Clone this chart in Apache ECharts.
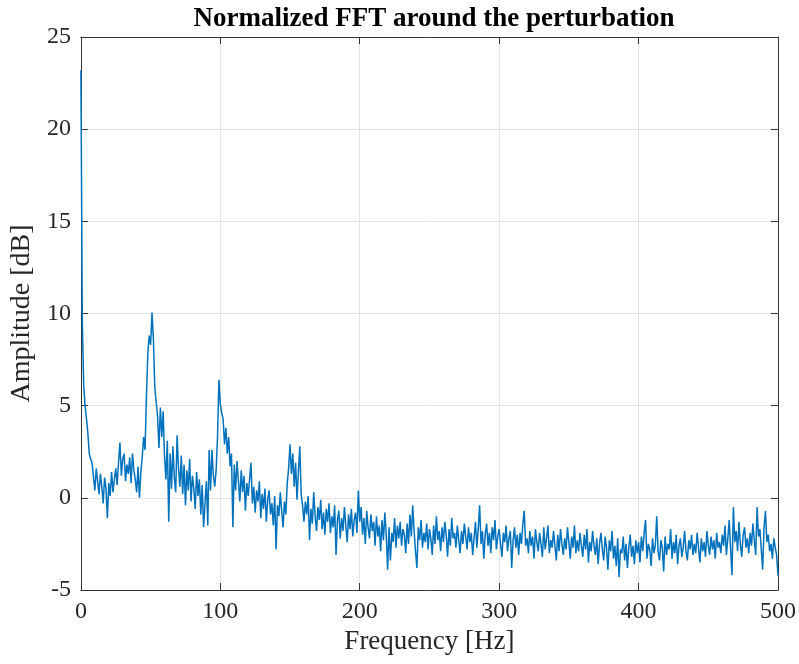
<!DOCTYPE html>
<html><head><meta charset="utf-8">
<script src="https://cdn.jsdelivr.net/npm/echarts@6/dist/echarts.min.js"></script>
<style>html,body{margin:0;padding:0;background:#fff;}#c{width:799px;height:664px;}</style>
</head><body><div id="c"></div>
<script>
var titleText = 'Normalized FFT around the perturbation';
var xLabel = 'Frequency [Hz]';
var yLabel = 'Amplitude [dB]';
var freqStart = 0;   // Hz
var freqStep = 1;    // Hz per sample
var xTicks = [0, 100, 200, 300, 400, 500];
var yTicks = [-5, 0, 5, 10, 15, 20, 25];
var amp000 = [23.2, 9.6, 6.1, 5.0, 4.3, 3.5, 2.4, 2.1, 1.9, 2.0,
  0.4, 1.6, 0.9, 0.2, 1.3, 0.6, -0.3, 1.1, 0.5, -1.1,
  0.8, 0.1, 1.4, 0.3, 1.0, 1.6, 0.7, 1.9, 3.0, 1.2,
  2.1, 2.4, 0.9, 1.8, 1.3, 2.2, 0.8, 2.4, 1.5, 1.0,
  0.3, 1.7, 0.0, 1.4, 2.2, 3.3, 2.6, 5.5, 7.8, 8.8];
var amp050 = [8.3, 10.05, 8.6, 6.0, 5.2, 4.4, 2.7, 4.9, 3.3, 4.7,
  2.2, 1.0, 3.1, -1.3, 2.4, 0.5, 2.8, 1.1, 0.3, 3.4,
  1.6, 0.6, 2.3, 0.2, 1.8, -0.4, 1.5, 0.4, 2.1, -0.2,
  1.2, 0.5, -0.6, 1.4, 0.1, 1.0, -0.9, 0.7, -1.6, -0.3,
  0.9, -1.5, 2.6, 0.4, 2.6, 1.2, 0.6, 1.5, 3.3, 6.4];
var amp100 = [5.1, 4.6, 4.3, 2.9, 3.8, 2.4, 3.3, 1.7, 2.4, -1.6,
  1.8, 0.4, 2.0, 0.9, -0.2, 1.5, 0.3, 1.2, -0.7, 0.8,
  0.1, 1.0, 1.9, -0.3, 0.6, -0.8, 0.4, -0.2, 0.9, -1.1,
  0.2, -0.6, 0.5, -1.3, -0.1, 0.4, -0.9, -0.3, -1.5, 0.1,
  -2.8, -0.4, -1.0, 0.3, -0.7, -1.6, -0.2, -0.9, 0.8, 1.6];
var amp150 = [2.9, 1.3, 2.4, 0.6, 1.9, -0.1, 1.4, 2.8, 0.2, -0.4,
  -1.3, -0.2, -0.9, 0.1, -2.3, -0.6, -1.4, 0.3, -1.0, -1.8,
  -0.5, -1.2, -0.1, -1.7, -0.8, -2.0, -0.6, -1.3, -0.3, -1.9,
  -1.0, -1.6, -0.4, -3.1, -1.2, -0.7, -2.2, -1.1, -1.8, -0.5,
  -1.5, -2.4, -0.9, -1.7, -0.6, -2.1, -1.2, -0.8, -1.9, 0.4];
var amp200 = [-1.3, -0.5, -2.0, -1.1, -2.5, -0.7, -1.6, -2.2, -0.9, -1.8,
  -1.3, -2.6, -1.0, -2.1, -1.5, -2.9, -1.2, -2.3, -0.8, -2.0,
  -3.9, -1.6, -3.4, -1.9, -2.4, -1.1, -2.7, -1.5, -2.2, -1.3,
  -2.6, -1.7, -2.0, -3.0, -1.4, -2.5, -0.9, -2.1, -0.4, -1.8,
  -2.9, -3.8, -1.6, -2.3, -1.2, -2.7, -1.9, -2.4, -1.4, -2.8];
var amp250 = [-1.7, -2.2, -3.1, -1.5, -2.5, -1.0, -2.3, -1.8, -2.9, -1.6,
  -2.4, -1.3, -2.0, -3.2, -1.7, -2.6, -1.1, -2.2, -1.9, -2.7,
  -1.5, -2.3, -3.0, -1.8, -2.5, -1.4, -2.1, -2.8, -1.6, -2.4,
  -1.9, -3.1, -2.2, -1.3, -2.7, -1.7, -0.4, -2.5, -1.8, -3.3,
  -2.0, -1.4, -2.6, -1.9, -3.0, -1.6, -2.3, -1.2, -2.8, -2.1];
var amp300 = [-1.7, -2.5, -3.2, -1.9, -2.4, -1.5, -2.9, -2.2, -1.8, -3.8,
  -2.3, -1.6, -2.7, -2.0, -3.1, -1.9, -2.5, -1.4, -0.7, -2.6,
  -2.2, -3.0, -1.8, -2.6, -2.1, -3.3, -1.7, -2.4, -2.9, -1.9,
  -2.5, -3.2, -1.6, -2.8, -2.2, -1.5, -3.0, -2.3, -2.7, -1.8,
  -2.6, -3.4, -2.0, -2.9, -1.7, -2.5, -3.1, -2.2, -2.8, -1.6];
var amp350 = [-2.4, -3.3, -2.1, -2.7, -1.5, -3.0, -2.3, -2.9, -1.9, -2.6,
  -3.2, -2.0, -2.8, -1.7, -3.5, -2.4, -2.9, -1.8, -2.6, -3.1,
  -2.2, -3.6, -2.5, -1.9, -2.8, -3.4, -2.1, -2.7, -3.9, -2.3,
  -2.9, -1.8, -3.3, -2.6, -3.7, -2.2, -4.3, -2.8, -3.0, -2.1,
  -3.4, -2.5, -3.8, -2.7, -2.0, -3.2, -2.6, -3.6, -2.3, -3.0];
var amp400 = [-2.4, -3.5, -2.1, -2.9, -1.9, -1.2, -3.3, -2.5, -2.8, -3.7,
  -2.2, -3.0, -2.6, -1.0, -2.9, -3.4, -2.3, -2.7, -4.0, -2.1,
  -3.1, -2.5, -2.8, -1.7, -3.3, -2.4, -3.0, -2.0, -3.6, -2.6,
  -2.2, -3.2, -2.7, -1.8, -2.9, -3.4, -2.3, -2.8, -2.0, -3.1,
  -2.5, -3.0, -1.9, -2.7, -3.5, -2.2, -2.9, -2.4, -3.2, -1.8];
var amp450 = [-2.6, -3.1, -2.1, -2.8, -2.3, -3.3, -1.9, -2.7, -2.4, -3.0,
  -2.0, -2.6, -1.5, -3.1, -2.2, -1.2, -2.8, -4.2, -0.5, -2.4,
  -1.8, -2.9, -1.3, -2.5, -3.2, -2.0, -1.6, -2.7, -2.2, -3.0,
  -1.9, -2.6, -1.4, -2.3, -3.1, -0.5, -2.1, -1.7, -2.8, -3.9,
  -1.6, -0.7, -2.4, -2.0, -2.9, -2.5, -3.3, -2.2, -2.7, -3.1,
  -4.2];

var amps = [].concat(amp000, amp050, amp100, amp150, amp200, amp250, amp300, amp350, amp400, amp450);
var pts = amps.map(function (v, i) { return [freqStart + i * freqStep, v]; });

var axisCol = '#333333';
var txtCol = '#262626';
var gridCol = '#e3e3e3';
var serif = '"Liberation Serif", "Times New Roman", serif';

var chart = echarts.init(document.getElementById('c'), null, {renderer: 'canvas'});
var baseX = {
  type: 'value', min: xTicks[0], max: xTicks[xTicks.length - 1], interval: 100,
  axisLine: {show: true, onZero: false, lineStyle: {color: axisCol, width: 1}},
  axisTick: {show: true, inside: true, length: 7, lineStyle: {color: axisCol}},
  splitLine: {show: false}
};
var baseY = {
  type: 'value', min: yTicks[0], max: yTicks[yTicks.length - 1], interval: 5,
  axisLine: {show: true, onZero: false, lineStyle: {color: axisCol, width: 1}},
  axisTick: {show: true, inside: true, length: 7, lineStyle: {color: axisCol}},
  splitLine: {show: false}
};
chart.setOption({
  animation: false,
  backgroundColor: '#ffffff',
  title: {
    text: titleText, left: 429, top: 1, textAlign: 'center',
    textStyle: {fontFamily: serif, fontWeight: 'bold', fontSize: 27, color: '#000'}
  },
  grid: {left: 80, right: 20, top: 37, bottom: 74, containLabel: false},
  xAxis: [
    Object.assign({}, baseX, {
      position: 'bottom',
      name: xLabel, nameLocation: 'middle', nameGap: 36,
      nameTextStyle: {fontFamily: serif, fontSize: 27, color: txtCol},
      axisLabel: {show: true, margin: 10, fontFamily: serif, fontSize: 24, color: txtCol},
      splitLine: {show: true, lineStyle: {color: gridCol, width: 1}}
    }),
    Object.assign({}, baseX, {position: 'top', axisLabel: {show: false}})
  ],
  yAxis: [
    Object.assign({}, baseY, {
      position: 'left',
      name: yLabel, nameLocation: 'middle', nameGap: 40,
      nameTextStyle: {fontFamily: serif, fontSize: 28, color: txtCol},
      axisLabel: {show: true, margin: 10, fontFamily: serif, fontSize: 24, color: txtCol},
      splitLine: {show: true, lineStyle: {color: gridCol, width: 1}}
    }),
    Object.assign({}, baseY, {position: 'right', axisLabel: {show: false}})
  ],
  series: [{
    type: 'line', data: pts, xAxisIndex: 0, yAxisIndex: 0,
    showSymbol: false, symbol: 'none', clip: true,
    lineStyle: {color: '#0072BD', width: 1.5},
    itemStyle: {color: '#0072BD'}
  }]
});
</script>
</body></html>
